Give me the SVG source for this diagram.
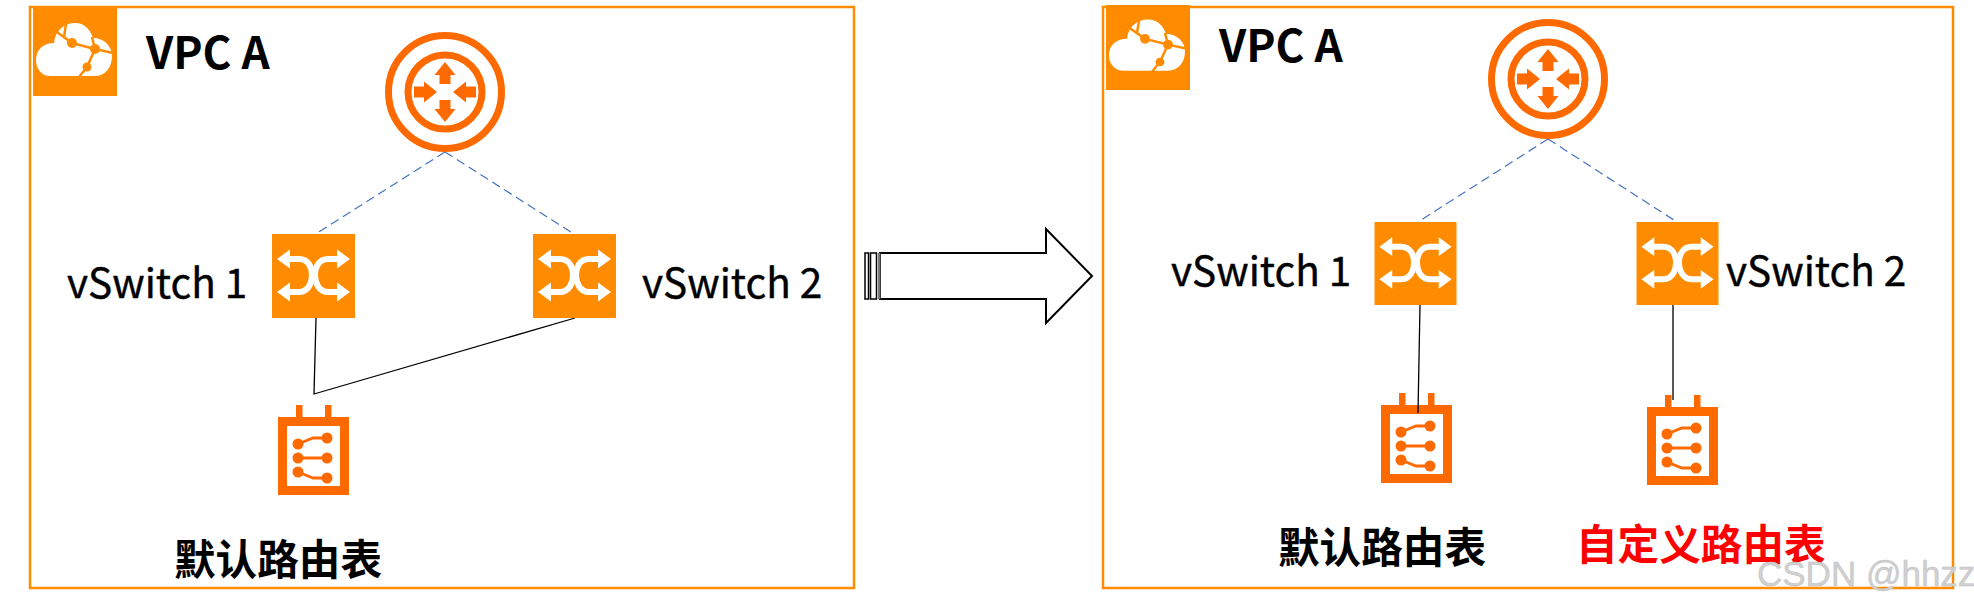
<svg xmlns="http://www.w3.org/2000/svg" width="1974" height="608" viewBox="0 0 1974 608">
<style>
.frame{fill:#fff;stroke:#FF8C00;stroke-width:2.5}
.sq{fill:#FF8C00}
.dash{fill:none;stroke:#4472C4;stroke-width:1.2;stroke-dasharray:9 5}
.wire{fill:none;stroke:#000;stroke-width:1.3}
.big{font-family:"Noto Sans CJK SC","Noto Sans",sans-serif;font-weight:700;font-size:44px;fill:#000}
.sw{font-family:"Noto Sans CJK SC","Noto Sans",sans-serif;font-size:40.500px;fill:#000;stroke:#000;stroke-width:.4}
.cn{font-family:"Noto Sans CJK SC",sans-serif;font-weight:700;font-size:41.600px;fill:#000}
.red{fill:#f00}
.wm{font-family:"Liberation Sans",sans-serif;font-size:35px;fill:#d0d0d0;stroke:#bbb;stroke-width:.4}
</style>
<defs>
<symbol id="cloud" viewBox="0 0 84 88" preserveAspectRatio="none" overflow="visible">
<rect class="sq" width="84" height="88"/>
<path fill="#fff" d="M17 68C8 68 3 60 3 52 3 42 10 35 21 35 22 23 31 15 42 15 51 15 57 21 60 30 71 30 79 38 79 48 79 60 72 68 62 68Z"/>
<g stroke="#FF8C00" stroke-width="2.500" fill="none"><path d="M24 24 39 35 62 41 54 59 46 69M33 16 31 29M62 41 80 45M59 29 62 41"/></g>
<g fill="#FF8C00"><circle cx="39" cy="35" r="5"/><circle cx="62" cy="41" r="5"/><circle cx="54" cy="59" r="4.500"/></g>
</symbol>
<symbol id="router" viewBox="-60 -60 120 120" overflow="visible">
<circle r="56.500" fill="none" stroke="#FF6A00" stroke-width="7"/>
<circle r="37" fill="none" stroke="#FF6A00" stroke-width="7"/>
<g fill="#FF6A00">
<path d="M-5.500-8V-17H-10.500L0-30 10.500-17H5.500V-8Z"/>
<path d="M-5.500 8H5.500V17H10.500L0 30-10.500 17H-5.500Z"/>
<path d="M-31-5.500H-21V-10.500L-8 0-21 10.500V5.500H-31Z"/>
<path d="M31-5.500H21V-10.500L8 0 21 10.500V5.500H31Z"/>
</g>
</symbol>
<symbol id="switch" viewBox="0 0 83 84" overflow="visible">
<rect class="sq" width="83" height="84"/>
<g fill="none" stroke="#fff" stroke-width="6">
<path d="M14 25H27C36 25 40 33 40 41 40 49 36 58 27 58H14"/>
<path d="M69 25H56C47 25 43 33 43 41 43 49 47 58 56 58H69"/>
</g>
<g fill="#fff">
<path d="M5 25 18 15.500V34.500Z"/><path d="M5 58 18 48.500V67.500Z"/>
<path d="M78 25 65 15.500V34.500Z"/><path d="M78 58 65 48.500V67.500Z"/>
</g>
</symbol>
<symbol id="table" viewBox="0 0 71 91" overflow="visible">
<path fill="#FF6A00" fill-rule="evenodd" d="M18 0H24.500V12H47V0H53.500V12H71V90H0V12H18ZM9 21V81H62V21Z"/>
<g fill="#FF6A00"><circle cx="20" cy="39" r="5.500"/><circle cx="49" cy="33" r="5.500"/><circle cx="20" cy="53" r="5.500"/><circle cx="49" cy="53" r="5.500"/><circle cx="20" cy="67" r="5.500"/><circle cx="49" cy="73" r="5.500"/></g>
<g fill="none" stroke="#FF6A00" stroke-width="2.800"><path d="M20 39 35 33H49M20 53H49M20 67 35 73H49"/></g>
</symbol>
</defs>
<rect width="1974" height="608" fill="#fff"/>
<g id="vpc-a-left"><rect class="frame" x="30" y="7" width="824" height="581"/></g>
<g id="vpc-a-right"><rect class="frame" x="1103" y="7" width="850" height="581"/></g>
<g id="connectors">
<path class="dash" d="M445 152 314 235"/>
<path class="dash" d="M445 152 574 234"/>
<path class="wire" d="M316 318 314 394 575 318"/>
<path class="dash" d="M1548 139 1418 222"/>
<path class="dash" d="M1548 139 1677 222"/>
</g>
<g id="cloud-left"><use href="#cloud" x="33" y="8" width="84" height="88"/><text class="big" x="146" y="69">VPC A</text></g>
<g id="cloud-right"><use href="#cloud" x="1106" y="5" width="84" height="85"/><text class="big" x="1219" y="62">VPC A</text></g>
<g id="router-left"><use href="#router" x="385" y="32" width="120" height="120"/></g>
<g id="router-right"><use href="#router" x="1488" y="19" width="120" height="120"/></g>
<g id="vswitch1-left"><use href="#switch" x="272" y="234" width="83" height="84"/><text class="sw" x="67" y="298">vSwitch 1</text></g>
<g id="vswitch2-left"><use href="#switch" x="533" y="234" width="83" height="84"/><text class="sw" x="642" y="298">vSwitch 2</text></g>
<g id="vswitch1-right"><use href="#switch" x="1374" y="222" width="83" height="83"/><text class="sw" x="1171" y="286">vSwitch 1</text></g>
<g id="vswitch2-right"><use href="#switch" x="1636" y="222" width="83" height="83"/><text class="sw" x="1726" y="286">vSwitch 2</text></g>
<g id="table-left"><use href="#table" x="278" y="405" width="71" height="91"/><text class="cn" x="174" y="575">默认路由表</text></g>
<g id="table-right1"><use href="#table" x="1381" y="393" width="71" height="91"/><text class="cn" x="1278" y="563">默认路由表</text></g>
<g id="table-right2"><use href="#table" x="1647" y="395" width="71" height="91"/><text class="cn red" x="1576" y="560">自定义路由表</text></g>
<g id="connectors-right"><path class="wire" d="M1420 305 1418 413M1673 305V400"/></g>
<g id="transition-arrow">
<path d="M880 253H1046V229L1092 276 1046 323V299H880Z" fill="#fff" stroke="#000" stroke-width="2"/>
<rect x="865" y="253" width="3.500" height="46" fill="#fff" stroke="#000" stroke-width="1.500"/>
<rect x="870.500" y="253" width="6" height="46" fill="#fff" stroke="#000" stroke-width="1.500"/>
<rect x="878" y="253" width="2.500" height="46" fill="#777"/>
</g>
<text class="wm" x="1757" y="586">CSDN @hhzz</text>
</svg>
